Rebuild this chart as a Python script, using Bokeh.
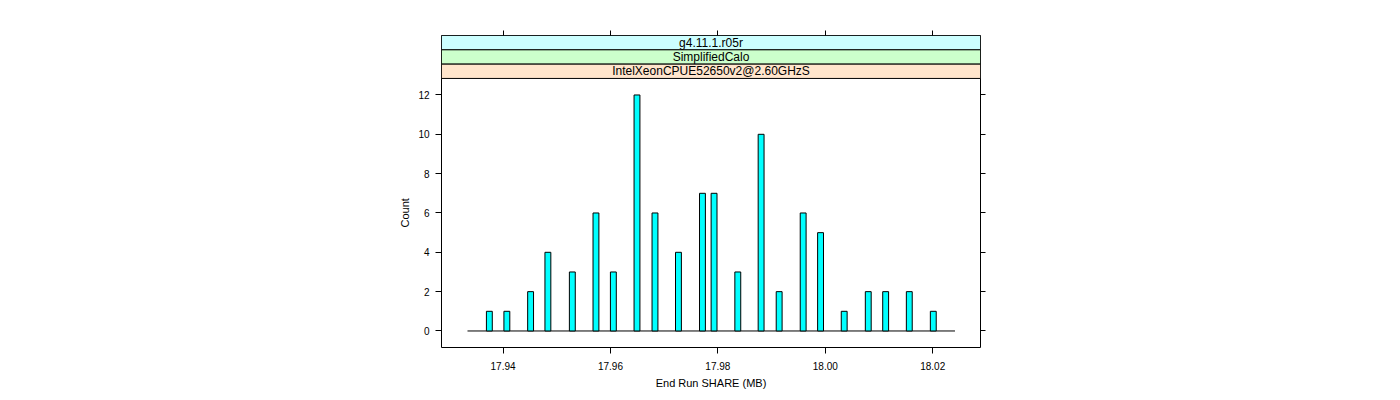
import math
from bokeh.plotting import figure
from bokeh.models import Range1d, FixedTicker, LinearAxis, Title, PrintfTickFormatter, CustomJSTickFormatter, ColumnDataSource
from bokeh.core.properties import value
from bokeh.embed import file_html
from bokeh.resources import INLINE

# ---- data ----
bin_centers = [17.93745, 17.94071, 17.94513, 17.94835, 17.95290, 17.95730, 17.96054,
               17.96494, 17.96829, 17.97266, 17.97713, 17.97929, 17.98371, 17.98805,
               17.99141, 17.99588, 17.99912, 18.00352, 18.00800, 18.01124, 18.01564,
               18.02011]
counts = [1, 1, 2, 4, 3, 6, 3, 12, 6, 4, 7, 7, 3, 10, 2, 6, 5, 1, 2, 2, 2, 1]
bin_width = 0.001095
breaks_lo = 17.93338
breaks_hi = 18.02415

x_ticks = [17.94, 17.96, 17.98, 18.00, 18.02]
y_ticks = [0, 2, 4, 6, 8, 10, 12]

strip_labels = ["g4.11.1.r05r", "SimplifiedCalo", "IntelXeonCPUE52650v2@2.60GHzS"]
strip_colors = ["#ccffff", "#ccffcc", "#ffe5cc"]

x_label = "End Run SHARE (MB)"
y_label = "Count"

# ---- layout ----
FONT = "Liberation Sans"
x_lo, x_hi = 17.92854, 18.02890
y_lo, y_hi_panel = -0.84, 12.84
strip_h = 0.728
y_top = y_hi_panel + strip_h * len(strip_labels)

p = figure(width=1384, height=392, output_backend="svg", toolbar_location=None,
           x_range=Range1d(x_lo, x_hi), y_range=Range1d(y_lo, y_top),
           min_border_left=441, min_border_right=404, min_border_top=35, min_border_bottom=45)
p.grid.visible = False
p.outline_line_color = "black"
p.outline_line_width = 1
p.background_fill_color = "white"
p.border_fill_color = "white"

# bars
lefts = [c - bin_width / 2 for c in bin_centers]
rights = [c + bin_width / 2 for c in bin_centers]
src = ColumnDataSource(dict(left=lefts, right=rights, top=counts, bottom=[0] * len(counts)))
p.segment(x0=[breaks_lo], y0=[0], x1=[breaks_hi], y1=[0], line_color="black", line_width=1)
p.quad(left="left", right="right", top="top", bottom="bottom", source=src,
       fill_color="#00ffff", line_color="black", line_width=1)

# strips (top = first label)
n = len(strip_labels)
s_bottoms = [y_hi_panel + strip_h * (n - 1 - i) for i in range(n)]
s_tops = [b + strip_h for b in s_bottoms]
p.quad(left=[x_lo] * n, right=[x_hi] * n, bottom=s_bottoms, top=s_tops,
       fill_color=strip_colors, line_color="black", line_width=1)
p.text(x=[(x_lo + x_hi) / 2] * n, y=[b + strip_h / 2 for b in s_bottoms], text=strip_labels,
       text_align="center", text_baseline="middle", text_color="black",
       text_font=value(FONT), text_font_size=value("12px"))


def style_axis(ax, show_labels):
    ax.axis_line_color = None
    ax.major_tick_line_color = "black"
    ax.minor_tick_line_color = None
    ax.major_tick_out = 6
    ax.major_tick_in = 0
    ax.major_label_text_font = FONT
    ax.major_label_text_font_size = "10px"
    ax.major_label_text_color = "black"
    if not show_labels:
        ax.formatter = CustomJSTickFormatter(code="return ''")


# bottom axis
xa = p.xaxis[0]
xa.ticker = FixedTicker(ticks=x_ticks)
xa.formatter = PrintfTickFormatter(format="%.2f")
style_axis(xa, True)
xa.major_label_standoff = 8
xa.axis_label = x_label
xa.axis_label_text_font = FONT
xa.axis_label_text_font_size = "11px"
xa.axis_label_text_font_style = "normal"
xa.axis_label_text_color = "black"
xa.axis_label_standoff = 4

# left axis
ya = p.yaxis[0]
ya.ticker = FixedTicker(ticks=y_ticks)
style_axis(ya, True)
ya.major_label_standoff = 6

# top axis (ticks only)
top_ax = LinearAxis(ticker=FixedTicker(ticks=x_ticks))
style_axis(top_ax, False)
top_ax.major_tick_out = 5
p.add_layout(top_ax, "above")

# right axis (ticks only)
right_ax = LinearAxis(ticker=FixedTicker(ticks=y_ticks))
style_axis(right_ax, False)
right_ax.major_tick_out = 5
p.add_layout(right_ax, "right")

# y label centred on the panel (not on panel + strips)
p.add_layout(Title(text=y_label, align="left", offset=120, standoff=9,
                   text_font=FONT, text_font_size="11px", text_font_style="normal",
                   text_color="black"), "left")

open("out.html", "w").write(file_html(p, INLINE))
